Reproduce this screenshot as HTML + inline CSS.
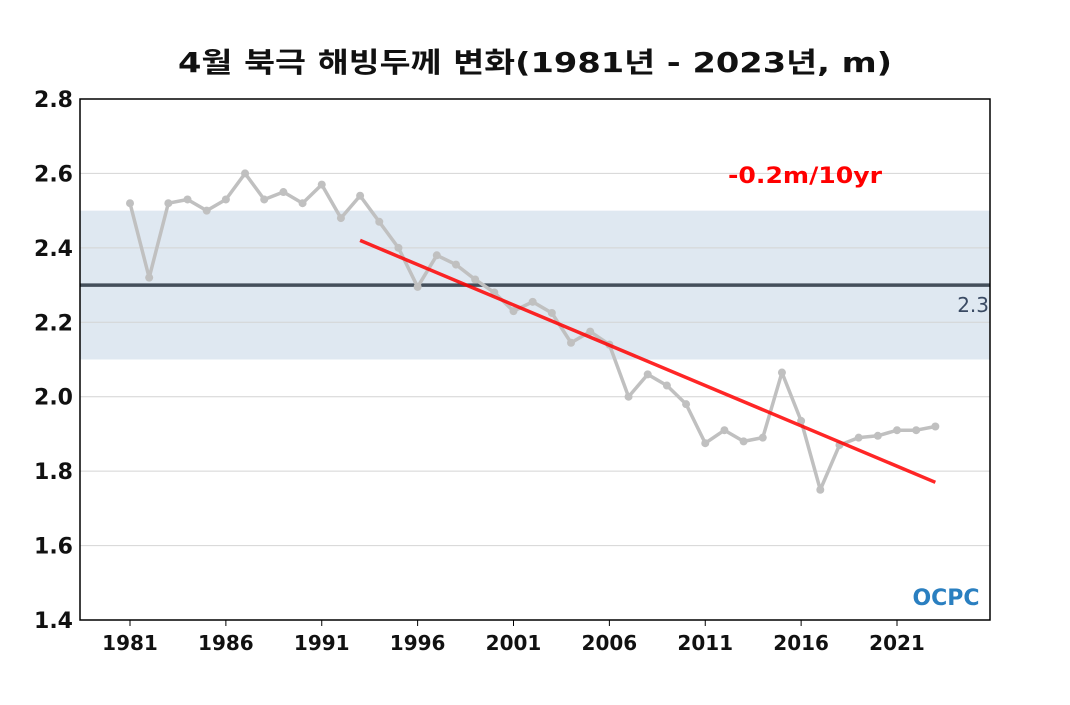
<!DOCTYPE html>
<html><head><meta charset="utf-8"><style>
body{margin:0;background:#fff;width:1070px;height:700px;overflow:hidden}
svg text{font-family:"DejaVu Sans","Noto Sans CJK KR",sans-serif}
</style></head><body>
<svg id="c" width="1070" height="700">
<text x="178" y="72" font-size="28" font-weight="bold" fill="#111" textLength="714" lengthAdjust="spacingAndGlyphs">4월 북극 해빙두께 변화(1981년 - 2023년, m)</text>
<g id="g"></g>
</svg>
<script>
const years=[1981,1982,1983,1984,1985,1986,1987,1988,1989,1990,1991,1992,1993,1994,1995,1996,1997,1998,1999,2000,2001,2002,2003,2004,2005,2006,2007,2008,2009,2010,2011,2012,2013,2014,2015,2016,2017,2018,2019,2020,2021,2022,2023];
const values=[2.52,2.32,2.52,2.53,2.50,2.53,2.60,2.53,2.55,2.52,2.57,2.48,2.54,2.47,2.40,2.295,2.38,2.355,2.315,2.28,2.23,2.255,2.225,2.145,2.175,2.14,2.00,2.06,2.03,1.98,1.875,1.91,1.88,1.89,2.065,1.935,1.75,1.87,1.89,1.895,1.91,1.91,1.92];
const yTicks=[1.4,1.6,1.8,2.0,2.2,2.4,2.6,2.8];
const xTicks=[1981,1986,1991,1996,2001,2006,2011,2016,2021];
const band=[2.1,2.5];
const meanVal=2.3;
const trendYears=[1993,2023];
const trendVals=[2.42,1.77];
const NS='http://www.w3.org/2000/svg';
const L=80,R=990,T=99,B=620;
const x=v=>130+(v-1981)*(897-130)/40;
const y=v=>B-(v-1.4)*(B-T)/1.4;
const g=document.getElementById('g');
function mk(t,a,p){const e=document.createElementNS(NS,t);for(const k in a)e.setAttribute(k,a[k]);(p||g).appendChild(e);return e;}
let e=mk('rect',{x:L,y:y(band[1]),width:R-L,height:y(band[0])-y(band[1]),fill:'#dfe8f1'});


yTicks.forEach(v=>{
 if(v>1.4&&v<2.8){const l=mk('line',{x1:L,x2:R,y1:y(v),y2:y(v),stroke:'#d4d4d4','stroke-width':1});
 
 }
 const t=mk('text',{x:L-7,y:y(v)+8,'text-anchor':'end','font-size':22,'font-weight':'bold',fill:'#111'});t.textContent=v.toFixed(1);
 
 
});
xTicks.forEach(v=>{
 mk('line',{x1:x(v),x2:x(v),y1:B,y2:B+6,stroke:'#000'});
 const t=mk('text',{x:x(v),y:B+30,'text-anchor':'middle','font-size':20,'font-weight':'bold',fill:'#111'});t.textContent=v;
 
 
});
e=mk('line',{x1:L,x2:R,y1:y(meanVal),y2:y(meanVal),stroke:'#444f5b','stroke-width':3.5});


e=mk('text',{x:R-1,y:y(meanVal)+27,'text-anchor':'end','font-size':20,fill:'#3a4a63'});e.textContent=meanVal;


e=mk('polyline',{points:years.map((yr,i)=>x(yr)+','+y(values[i])).join(' '),fill:'none',stroke:'#c0c0c0','stroke-width':3.5,'stroke-linejoin':'round'});


years.forEach((yr,i)=>{const c=mk('circle',{cx:x(yr),cy:y(values[i]),r:4,fill:'#c0c0c0'});
 
 });
e=mk('line',{x1:x(trendYears[0]),y1:y(trendVals[0]),x2:x(trendYears[1]),y2:y(trendVals[1]),stroke:'#ff0000','stroke-width':3.5,'stroke-opacity':0.85});


e=mk('text',{x:728,y:183,'font-size':22,'font-weight':'bold',fill:'#ff0000',textLength:154,lengthAdjust:'spacingAndGlyphs'});e.textContent='-0.2m/10yr';


e=mk('rect',{x:L,y:T,width:R-L,height:B-T,fill:'none',stroke:'#000','stroke-width':1.5});


e=mk('text',{x:946,y:605,'text-anchor':'middle','font-size':22,'font-weight':'bold',fill:'#2a7fc0'});e.textContent='OCPC';


</script>
</body></html>
